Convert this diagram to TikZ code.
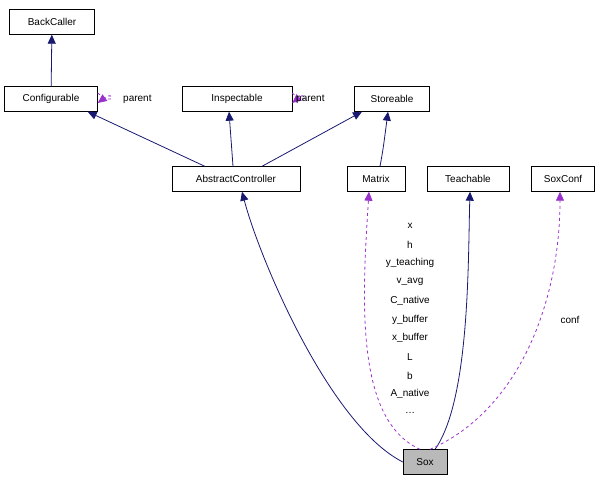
\documentclass[tikz,border=0pt]{standalone}
\usepackage{fontspec}
\setmainfont{Liberation Sans}
\usetikzlibrary{arrows.meta}
\definecolor{edgeblue}{RGB}{25,25,112}
\definecolor{edgeorchid}{RGB}{153,50,204}
\tikzset{
  cls/.style={draw,fill=white,minimum height=25pt,inner xsep=4pt,font=\fontsize{10}{12}\selectfont},
  inh/.style={edgeblue,thick,-{Triangle[length=9pt,width=8pt]}},
  use/.style={edgeorchid,thick,dashed,-{Triangle[length=9pt,width=8pt]}},
  lbl/.style={font=\fontsize{10}{12}\selectfont,inner sep=1pt}
}
\begin{document}
\begin{tikzpicture}[x=1pt,y=-1pt]
\useasboundingbox (0,0) rectangle (609,483);
\node [cls,minimum width=85pt] (backcaller) at (52,22) {BackCaller};
\node [cls,minimum width=93pt] (configurable) at (51,99) {Configurable};
\node [cls,minimum width=110pt] (inspectable) at (237,99) {Inspectable};
\node [cls,minimum width=75pt] (storeable) at (392,99) {Storeable};
\node [cls,minimum width=128pt] (abstractctrl) at (236,179) {AbstractController};
\node [cls,minimum width=58pt] (matrix) at (376,179) {Matrix};
\node [cls,minimum width=82pt] (teachable) at (468,179) {Teachable};
\node [cls,minimum width=63pt] (soxconf) at (563,179) {SoxConf};
\node [cls,minimum width=44pt,fill=gray!55] (sox) at (425,462) {Sox};
% inheritance
\draw [inh] (configurable) -- (backcaller);
\draw [inh] ([xshift=33pt]abstractctrl.north west) -- ([xshift=-10pt]configurable.south east);
\draw [inh] ([xshift=-3pt]abstractctrl.north) -- ([xshift=-8pt]inspectable.south);
\draw [inh] ([xshift=26pt]abstractctrl.north) -- ([xshift=-30pt]storeable.south);
\draw [inh] ([xshift=4pt]matrix.north) .. controls (383,150) .. ([xshift=-4pt]storeable.south);
\draw [inh] (sox.west) .. controls (330,425) and (260,260) .. ([xshift=6pt]abstractctrl.south);
\draw [inh] ([xshift=10pt]sox.north) .. controls (470,400) and (468,260) .. ([xshift=2pt]teachable.south);
% self loops
\draw [use] ([yshift=6pt]configurable.east) .. controls (115,108) and (115,90) .. ([yshift=-4pt]configurable.east);
\node [lbl,anchor=west] (cparent) at (122,99) {parent};
\draw [use] ([yshift=6pt]inspectable.east) .. controls (308,108) and (308,90) .. ([yshift=-4pt]inspectable.east);
\node [lbl,anchor=west] (iparent) at (295,99) {parent};
% usage
\draw [use] ([xshift=-5pt]sox.north) .. controls (355,420) and (362,300) .. ([xshift=-7pt]matrix.south);
\draw [use] ([xshift=5pt]sox.north) .. controls (520,410) and (560,300) .. ([xshift=-3pt]soxconf.south);
\node [lbl] (conf) at (570,320) {conf};
\foreach \t [count=\i from 0] in {x,h,y\_teaching,v\_avg,C\_native,y\_buffer,x\_buffer,L,b,A\_native,{\ldots}}
  \node [lbl] (m\i) at (410,226+18.7*\i) {\t};
\end{tikzpicture}
\end{document}
